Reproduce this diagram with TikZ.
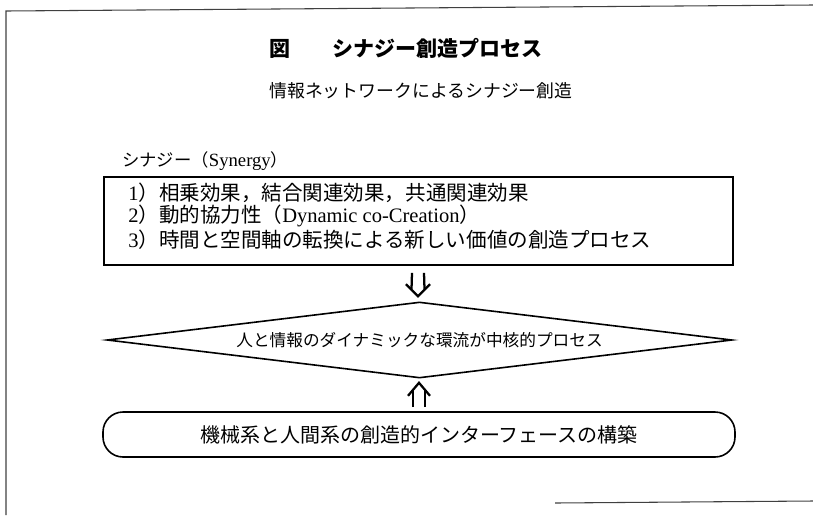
\documentclass[tikz,border=0pt]{standalone}
\usepackage{fontspec}
\setmainfont{Liberation Serif}
\newfontfamily\cjk{Noto Sans CJK JP}
\usetikzlibrary{shapes.geometric,calc}
\newcommand\fsz[1]{\fontsize{#1}{#1}\selectfont}
\tikzset{
  ln/.style={line width=1.2pt, black},
  frameln/.style={line width=0.8pt, black!75},
  txt/.style={inner sep=0pt, anchor=west},
  boxtxt/.style={txt, font=\cjk\fsz{15.4pt}},
  arr/.style={line width=1.7pt, line join=miter, line cap=butt},
}
\begin{document}
\begin{tikzpicture}[x=0.75pt,y=-0.75pt]
\useasboundingbox (0,0) rectangle (813,515);
\draw[frameln] (6,515) -- (6,11) -- (813,5);
\draw[frameln] (555,503) -- (813,501);

\node[txt, font=\cjk\bfseries\fsz{15.75pt}] (title) at (269,48) {図　　シナジー創造プロセス};
\node[txt, font=\cjk\fsz{13.4pt}] (sub) at (269,91) {情報ネットワークによるシナジー創造};
\node[txt, font=\cjk\fsz{13pt}] (syn) at (122,161) {シナジー（{\rmfamily\fsz{14pt}Synergy}）};

\node[draw, ln, minimum width=471.75pt, minimum height=66pt, inner sep=0pt] (rect) at (418.5,221) {};
\node[boxtxt] (l1) at (128,193) {{\rmfamily 1}）相乗効果，結合関連効果，共通関連効果};
\node[boxtxt] (l2) at (128,216) {{\rmfamily 2}）動的協力性（{\rmfamily Dynamic co-Creation}）};
\node[boxtxt] (l3) at (128,240) {{\rmfamily 3}）時間と空間軸の転換による新しい価値の創造プロセス};

\node[draw, ln, diamond, aspect=8.2, minimum width=468.75pt, minimum height=57pt, inner sep=0pt, font=\cjk\fsz{12.5pt}] (dia) at (419.5,340) {人と情報のダイナミックな環流が中核的プロセス};

\node[draw, ln, rounded corners=15pt, minimum width=474pt, minimum height=33.75pt, inner sep=0pt, font=\cjk\fsz{15pt}] (rbox) at (419,434.5) {機械系と人間系の創造的インターフェースの構築};

% down double arrow
\coordinate (dt) at ($(dia.north)+(-1.5,-5)$);
\draw[arr] ($(rect.south)+(-6.5,7)$) -- ($(dt)+(-6.5,-7)$);
\draw[arr] ($(rect.south)+(5.5,7)$) -- ($(dt)+(6.5,-7)$);
\draw[arr] ($(dt)+(-12,-12)$) -- (dt) -- ($(dt)+(12,-12)$);

% up double arrow
\coordinate (ut) at ($(dia.south)+(-0.5,4)$);
\draw[arr] ($(rbox.north)+(-6,-4)$) -- ($(ut)+(-6,8)$);
\draw[arr] ($(rbox.north)+(6,-4)$) -- ($(ut)+(6,8)$);
\draw[arr] ($(ut)+(-11,13)$) -- (ut) -- ($(ut)+(11,13)$);
\end{tikzpicture}
\end{document}
